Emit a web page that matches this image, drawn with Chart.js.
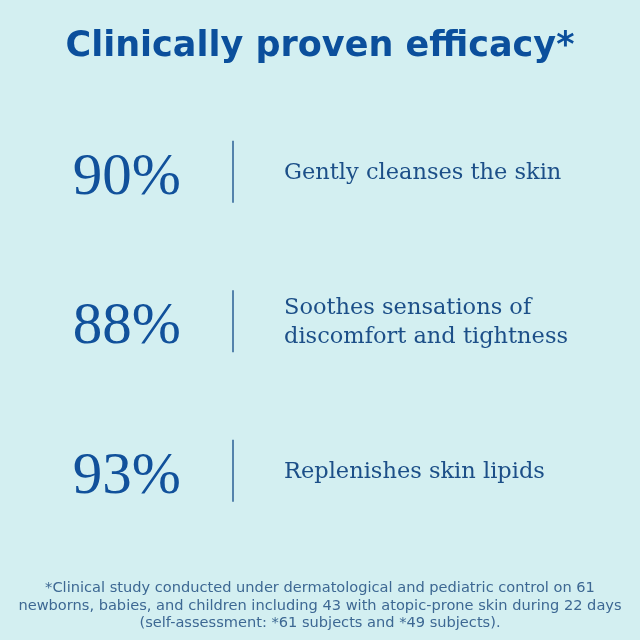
<!DOCTYPE html>
<html lang="en">
<head>
    <meta charset="UTF-8">
    <title>Clinically proven efficacy</title>
    <script src="https://cdn.jsdelivr.net/npm/chart.js"></script>
    <style>
        body, html {
            margin: 0;
            padding: 0;
            background-color: #d3eff1;
        }
        .chart-box {
            width: 640px;
            height: 640px;
        }
    </style>
</head>
<body>
    <div class="chart-box">
        <canvas id="efficacyChart" width="640" height="640"></canvas>
    </div>
    <script>
        // chart data
        const titleText = 'Clinically proven efficacy*';
        const claimLabels = [
            ['Gently cleanses the skin'],
            ['Soothes sensations of', 'discomfort and tightness'],
            ['Replenishes skin lipids']
        ];
        const efficacyValues = [90, 88, 93];
        const footnoteLines = [
            '*Clinical study conducted under dermatological and pediatric control on 61',
            'newborns, babies, and children including 43 with atopic-prone skin during 22 days',
            '(self-assessment: *61 subjects and *49 subjects).'
        ];

        const darkBlue = '#0b4f9c';
        const textBlue = '#1c4f88';

        // paints background, then each row: percentage, divider, claim text
        const rowsPlugin = {
            id: 'rows',
            beforeDraw(chart) {
                const ctx = chart.ctx;
                ctx.save();
                ctx.fillStyle = '#d3eff1';
                ctx.fillRect(0, 0, chart.width, chart.height);
                ctx.restore();
            },
            afterDatasetsDraw(chart) {
                const ctx = chart.ctx;
                const meta = chart.getDatasetMeta(0);
                ctx.save();
                meta.data.forEach((bar, i) => {
                    const y = bar.y;

                    // big percentage
                    ctx.fillStyle = '#11519b';
                    ctx.font = '400 59px "Liberation Serif"';
                    ctx.textAlign = 'right';
                    ctx.textBaseline = 'alphabetic';
                    ctx.fillText(chart.data.datasets[0].data[i] + '%', 181, y + 22);

                    // divider
                    ctx.strokeStyle = '#2a5f95';
                    ctx.lineWidth = 1.5;
                    ctx.beginPath();
                    ctx.moveTo(233, y - 31);
                    ctx.lineTo(233, y + 31);
                    ctx.stroke();

                    // claim text
                    const lines = chart.data.labels[i];
                    ctx.fillStyle = textBlue;
                    ctx.font = '400 22.5px "DejaVu Serif"';
                    ctx.textAlign = 'left';
                    const lh = 29;
                    const start = y + 7 - (lines.length - 1) * lh / 2;
                    lines.forEach((line, k) => {
                        ctx.fillText(line, 284, start + k * lh);
                    });
                });
                ctx.restore();
            }
        };

        const ctx = document.getElementById('efficacyChart').getContext('2d');
        const efficacyChart = new Chart(ctx, {
            type: 'bar',
            data: {
                labels: claimLabels,
                datasets: [{
                    data: efficacyValues,
                    backgroundColor: 'rgba(0,0,0,0)',
                    borderWidth: 0
                }]
            },
            options: {
                indexAxis: 'y',
                responsive: false,
                animation: false,
                devicePixelRatio: 1,
                layout: { padding: 0 },
                scales: {
                    x: { display: false, min: 0, max: 100 },
                    y: { display: false, offset: true }
                },
                plugins: {
                    legend: { display: false },
                    tooltip: { enabled: false },
                    title: {
                        display: true,
                        text: titleText,
                        color: darkBlue,
                        font: { family: 'DejaVu Sans', size: 35, weight: 'bold', lineHeight: 1.2 },
                        padding: { top: 26, bottom: 29 }
                    },
                    subtitle: {
                        display: true,
                        position: 'bottom',
                        text: footnoteLines,
                        color: '#3d6893',
                        font: { family: 'DejaVu Sans', size: 14.6, weight: '400', lineHeight: 1.2 },
                        padding: { top: 34, bottom: 8 }
                    }
                }
            },
            plugins: [rowsPlugin]
        });
    </script>
</body>
</html>
